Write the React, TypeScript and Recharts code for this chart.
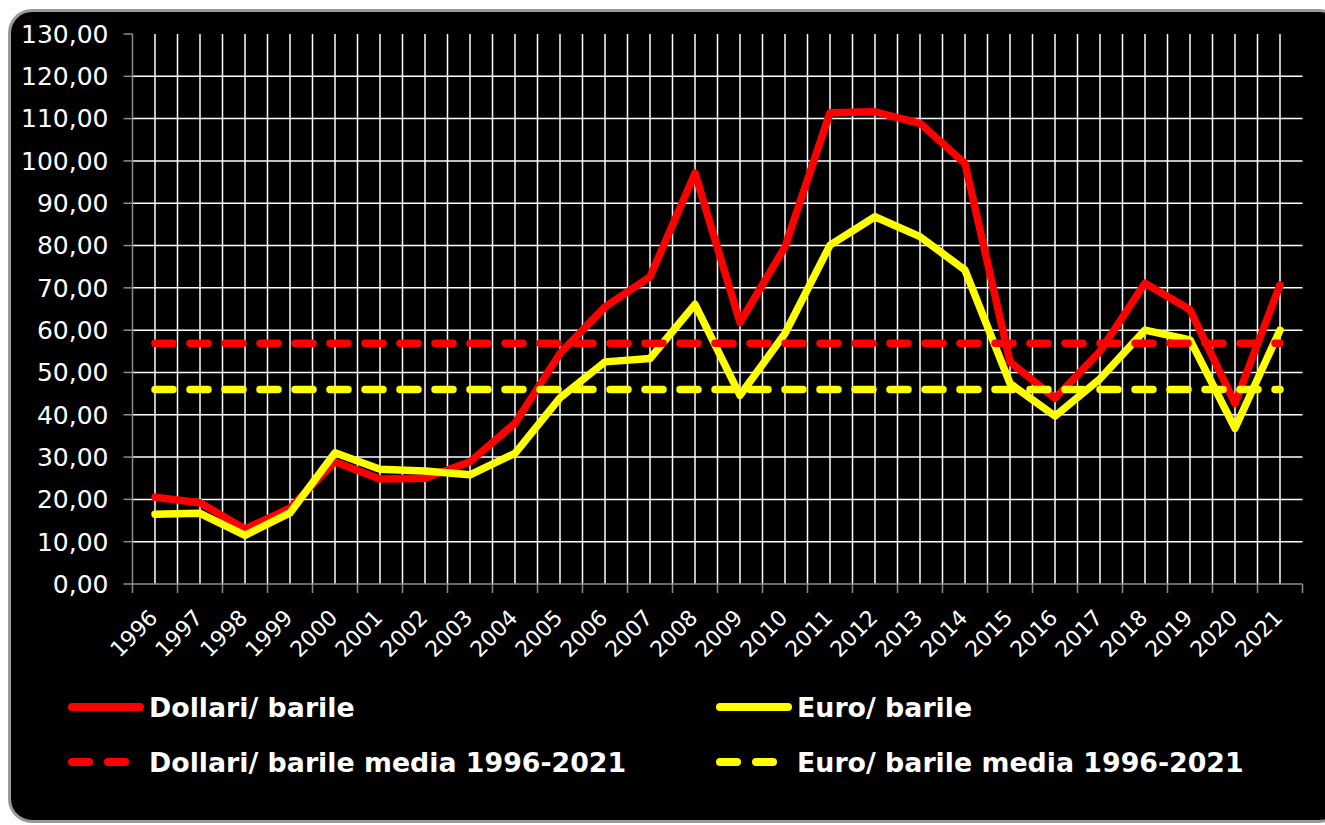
import { CartesianGrid, Line, LineChart, ReferenceLine, XAxis, YAxis } from 'recharts';

const anni = [
  1996, 1997, 1998, 1999, 2000, 2001, 2002, 2003, 2004, 2005, 2006, 2007, 2008,
  2009, 2010, 2011, 2012, 2013, 2014, 2015, 2016, 2017, 2018, 2019, 2020, 2021,
];
const dollariBarile = [
  20.5, 19.2, 13.0, 17.9, 28.9, 24.8, 25.0, 28.9, 38.0, 54.5, 65.5, 72.6, 97.1,
  61.8, 79.7, 111.4, 111.6, 108.9, 99.4, 52.5, 43.9, 55.0, 71.1, 64.8, 42.7, 70.7,
];
const euroBarile = [
  16.5, 16.7, 11.5, 16.8, 31.0, 27.1, 26.7, 25.8, 30.9, 44.0, 52.5, 53.3, 66.1,
  44.6, 59.2, 80.1, 86.8, 82.1, 74.2, 47.4, 39.7, 48.5, 60.0, 57.7, 36.8, 60.0,
];
const MEDIA_DOLLARI = 56.9;
const MEDIA_EURO = 46.0;
const yTicks = [0, 10, 20, 30, 40, 50, 60, 70, 80, 90, 100, 110, 120, 130];
const yGrid = [10, 20, 30, 40, 50, 60, 70, 80, 90, 100, 110, 120];

const ROSSO = '#ff0000';
const GIALLO = '#ffff00';
const GRIGIO = '#8c8c8c';

const legenda = [
  { nome: 'Dollari/ barile', colore: ROSSO, tratteggio: false },
  { nome: 'Euro/ barile', colore: GIALLO, tratteggio: false },
  { nome: 'Dollari/ barile media 1996-2021', colore: ROSSO, tratteggio: true },
  { nome: 'Euro/ barile media 1996-2021', colore: GIALLO, tratteggio: true },
];

const data = anni.map((anno, i) => ({
  anno,
  dollari: dollariBarile[i],
  euro: euroBarile[i],
  mediaDollari: MEDIA_DOLLARI,
  mediaEuro: MEDIA_EURO,
}));

const dominio = [anni[0] - 0.5, anni[anni.length - 1] + 0.5];
// vertical grid every half category (no line on the plot edges)
const gridTicks = anni.flatMap((a, i) => (i < anni.length - 1 ? [a, a + 0.5] : [a]));
// axis: tick marks on category boundaries, labels on categories
const axisTicks = [anni[0] - 0.5, ...anni.flatMap((a) => [a, a + 0.5])];

function formatIt(v: number): string {
  return v.toFixed(2).replace('.', ',');
}

function EmptyTick() {
  return <g />;
}

function AxisTick({ x, y, payload }: any) {
  if (!Number.isInteger(payload.value)) {
    return <line x1={x} x2={x} y1={y} y2={y + 9} stroke={GRIGIO} strokeWidth={1.5} />;
  }
  const px = x + 4;
  const py = y + 35;
  return (
    <text
      x={px}
      y={py}
      transform={`rotate(-45, ${px}, ${py})`}
      textAnchor="end"
      fill="#fff"
      fontSize={22}
      fontFamily="DejaVu Sans"
    >
      {payload.value}
    </text>
  );
}

function Legenda() {
  const colX = [68, 716];
  const rowY = [707, 762];
  return (
    <svg width={1325} height={825} style={{ position: 'absolute', left: 0, top: 0 }}>
      {legenda.map((item, i) => {
        const x = colX[i % 2];
        const y = rowY[Math.floor(i / 2)];
        return (
          <g key={item.nome}>
            {item.tratteggio ? (
              <line
                x1={x + 4}
                x2={x + 57}
                y1={y}
                y2={y}
                stroke={item.colore}
                strokeWidth={8}
                strokeLinecap="round"
                strokeDasharray="17 19"
              />
            ) : (
              <line x1={x + 4} x2={x + 72} y1={y} y2={y} stroke={item.colore} strokeWidth={8} strokeLinecap="round" />
            )}
            <text x={x + 81} y={y + 10} fill="#fff" fontSize={26.8} fontWeight="bold" fontFamily="DejaVu Sans">
              {item.nome}
            </text>
          </g>
        );
      })}
    </svg>
  );
}

export default function App() {
  return (
    <div
      style={{
        position: 'absolute',
        left: 0,
        top: 0,
        width: 1325,
        height: 825,
        overflow: 'hidden',
        background: '#fff',
      }}
    >
      <div
        style={{
          position: 'absolute',
          left: 8,
          top: 9,
          width: 1335,
          height: 814,
          background: '#000',
          border: '3px solid #9a9a9a',
          borderRadius: 24,
          boxSizing: 'border-box',
        }}
      />
      <div style={{ position: 'absolute', left: 0, top: 0 }}>
        <LineChart
          width={1325}
          height={825}
          data={data}
          margin={{ top: 34, right: 22.5, left: 0, bottom: 141 }}
          style={{ fontFamily: 'DejaVu Sans' }}
        >
          <CartesianGrid xAxisId="griglia" horizontal={false} syncWithTicks stroke="#fff" strokeWidth={1.5} />
          {yGrid.map((v) => (
            <ReferenceLine key={v} xAxisId="anni" y={v} stroke="#fff" strokeWidth={1.5} />
          ))}
          <XAxis
            xAxisId="griglia"
            dataKey="anno"
            type="number"
            domain={dominio}
            ticks={gridTicks}
            interval={0}
            height={0}
            tick={<EmptyTick />}
            tickLine={false}
            axisLine={false}
          />
          <XAxis
            xAxisId="anni"
            dataKey="anno"
            type="number"
            domain={dominio}
            ticks={axisTicks}
            interval={0}
            height={100}
            tickLine={false}
            tickSize={0}
            tickMargin={0}
            stroke={GRIGIO}
            strokeWidth={1.5}
            tick={<AxisTick />}
          />
          <YAxis
            domain={[0, 130]}
            ticks={yTicks}
            interval={0}
            width={132.5}
            tickSize={9}
            tickMargin={15}
            tickFormatter={formatIt}
            stroke={GRIGIO}
            strokeWidth={1.5}
            tick={{ fill: '#fff', fontSize: 25, fontFamily: 'DejaVu Sans' }}
          />
          <Line
            xAxisId="anni"
            dataKey="dollari"
            stroke={ROSSO}
            strokeWidth={7.5}
            strokeLinejoin="round"
            strokeLinecap="round"
            dot={false}
            isAnimationActive={false}
          />
          <Line
            xAxisId="anni"
            dataKey="euro"
            stroke={GIALLO}
            strokeWidth={7.5}
            strokeLinejoin="round"
            strokeLinecap="round"
            dot={false}
            isAnimationActive={false}
          />
          <Line
            xAxisId="anni"
            dataKey="mediaDollari"
            stroke={ROSSO}
            strokeWidth={7.5}
            strokeLinecap="round"
            strokeDasharray="18 17"
            dot={false}
            isAnimationActive={false}
          />
          <Line
            xAxisId="anni"
            dataKey="mediaEuro"
            stroke={GIALLO}
            strokeWidth={7.5}
            strokeLinecap="round"
            strokeDasharray="18 17"
            dot={false}
            isAnimationActive={false}
          />
        </LineChart>
      </div>
      <Legenda />
    </div>
  );
}
